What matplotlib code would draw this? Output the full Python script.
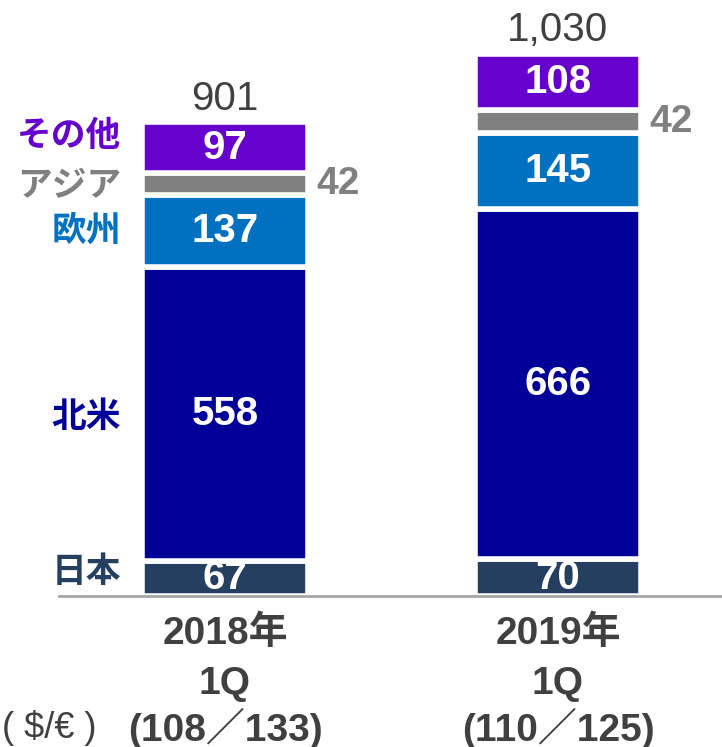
import numpy as np
import matplotlib.pyplot as plt

# データ（億円）
periods = ["2018年", "2019年"]
quarters = ["1Q", "1Q"]
rates = ["(108／133)", "(110／125)"]
rate_title = "( $/€ )"
regions = ["日本", "北米", "欧州", "アジア", "その他"]
japan = [67, 70]
north_america = [558, 666]
europe = [137, 145]
asia = [42, 42]
others = [97, 108]
totals = [901, 1030]

colors = ["#243F60", "#000099", "#0070C0", "#808080", "#6600CC"]
text_gray = "#404040"

num_font = ["Liberation Sans", "Noto Sans CJK JP"]
jp_font = ["Noto Sans CJK JP", "DejaVu Sans"]

W, H = 722, 747
fig = plt.figure(figsize=(W / 100, H / 100), dpi=100)
ax = fig.add_axes([59 / W, 151 / H, 663 / W, 596 / H])

x = np.arange(len(periods))
width = 0.5
series = [japan, north_america, europe, asia, others]

bottom = np.zeros(len(x))
bars = []
for vals, col in zip(series, colors):
    b = ax.bar(x, vals, width, bottom=bottom, color=col,
               edgecolor="white", linewidth=4, zorder=2)
    bars.append((b, np.array(vals), bottom.copy()))
    bottom += vals

# 値ラベル
for k, (b, vals, bot) in enumerate(bars):
    for i in range(len(x)):
        yc = bot[i] + vals[i] / 2
        if regions[k] == "アジア":
            ax.annotate(str(vals[i]), xy=(x[i] + width / 2, yc),
                        xytext=(6, 0), textcoords="offset points",
                        ha="left", va="center", fontsize=28,
                        fontweight="bold", color="#808080", family=num_font)
        else:
            ax.text(x[i], yc, str(vals[i]), ha="center", va="center",
                    fontsize=29, fontweight="bold", color="white",
                    family=num_font, clip_on=True, zorder=3)

# 合計
for i in range(len(x)):
    ax.annotate(f"{totals[i]:,}", xy=(x[i], bottom[i]),
                xytext=(0, 9), textcoords="offset points",
                ha="center", va="baseline", fontsize=29,
                color=text_gray, family=num_font)

# 左側の地域ラベル（2018年の棒に合わせる）
label_dy = [5, -2, 1, -1, 9]
for k, (b, vals, bot) in enumerate(bars):
    yc = bot[0] + vals[0] / 2
    ax.annotate(regions[k], xy=(x[0] - width / 2, yc),
                xytext=(-15, label_dy[k]), textcoords="offset points",
                ha="right", va="center", fontsize=25, fontweight="bold",
                color=colors[k], family=jp_font, annotation_clip=False)

# 期間ラベル
for i in range(len(x)):
    for txt, dy in [(periods[i], -27), (quarters[i], -63), (rates[i], -95)]:
        ax.annotate(txt, xy=(x[i], 0), xycoords=("data", "axes fraction"),
                    xytext=(0, dy), textcoords="offset points",
                    ha="center", va="center", fontsize=28, fontweight="bold",
                    color=text_gray, family=num_font, annotation_clip=False)

fig.text(2 / W, 1 - 728 / H, rate_title, ha="left", va="center",
         fontsize=26, color=text_gray, family=num_font)

ax.set_xlim(-0.4985, 1.4925)
ax.set_ylim(0, 1133)
for s in ["top", "left", "right"]:
    ax.spines[s].set_visible(False)
ax.spines["bottom"].set_color("#A6A6A6")
ax.spines["bottom"].set_linewidth(2)
ax.spines["bottom"].set_zorder(4)
ax.set_xticks([])
ax.set_yticks([])

fig.savefig("out.png", dpi=100)
